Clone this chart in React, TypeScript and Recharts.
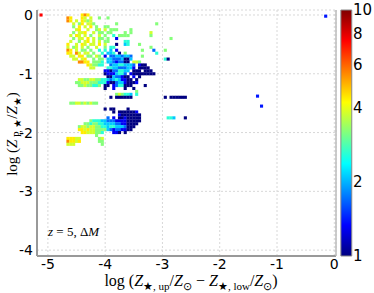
import { ScatterChart, Scatter, XAxis, YAxis, CartesianGrid, ReferenceArea } from "recharts";

// histogram bins: row j sits at y = BIN_Y0 - j*BIN, char i at x = BIN_X0 + i*BIN
const BIN_X0 = -4.7;
const BIN_Y0 = 0;
const BIN = 0.05;

// colour level code (0-9) -> count value on the colour bar
const LEVEL_VALUES = [1, 1.3, 1.7, 2.1, 2.6, 3.2, 3.8, 4.4, 5.5, 7.5];

// '.' = empty bin, '|' only separates groups of ten for readability
const CELL_ROWS = [
  "......787.",
  ".87...76.6|..5..5",
  ".87.6.7656",
  "...6.57.66|5.......5.|..........|..5",
  "...5.7.6.7|.5..55",
  "....67..6.|.56.6.555.|...5",
  "...5.667..|6.55.55...|.5.5......|6",
  "..6.76.6.5|..6.5..4.5|555.......|5",
  "...5.66.7.|6.55.5..1.|..........|.......5",
  "..6..5.67.|6.6.55....|.44",
  ".7..6.76.6|6.7.6...0.|.34...5",
  ".6.56.6.5.|.6..5.44..|..........|5",
  ".87.6.55.5|..4.4.3.1.|.......5..|.2...5",
  ".77.86.66.|5..4.334.0|.5........|..4",
  "..66.77.55|.65.1.2233|2332...5",
  "...66.67..|5.55.33222|3003......|.....40",
  ".....8877.|5554.33212|200.665",
  "........76|5544..2334|43332.100",
  ".........6|6....44332|22331.0000",
  "..........|....110224|433.000.00|0",
  "..........|....011134|42.1000000|00",
  "..........|.....00322|100.1.0",
  ".....66556|6554432343|1100.0",
  "....556665|5544410023|310001",
  ".....55655|445.00.124|4000....0",
  "..........|....0..1..|.0..0",
  "..........|..........|.....5",
  "..........|........56|5443.4",
  "..........|......0.00|0000......|.....0.000|000",
  "",
  "..55665656|55",
  "",
  "..........|....0.00..|..0",
  "..........|.......0.0|000001",
  "..........|.........1|0000000",
  "..........|.....2.1.0|0100000...|......443.|..0",
  ".........5|4443322211|1100000",
  ".......554|5544333322|110000",
  ".....56656|6554434433|32000",
  ".....77676|6555532122|1100",
  "......7766|6554...110|.0",
  "..........|.5",
  ".77766....|..56",
  ".87767....|..55",
  ".666......|...5",
];

// isolated bins away from the main block
const OUTLIER_X = [-5.12, -0.15, -1.34, -1.27];
const OUTLIER_Y = [0, -0.02, -1.38, -1.55];
const OUTLIER_V = [7.5, 1.4, 1.4, 1.4];

const X_TICKS = [-5, -4, -3, -2, -1, 0];
const Y_TICKS = [0, -1, -2, -3, -4];
const CB_TICKS = [1, 2, 4, 6, 8, 10];

function jet(v: number) {
  const t = Math.log10(v);
  const c = (x: number) => Math.round(255 * Math.max(0, Math.min(1, x)));
  return `rgb(${c(1.5 - Math.abs(4 * t - 3))},${c(1.5 - Math.abs(4 * t - 2))},${c(1.5 - Math.abs(4 * t - 1))})`;
}

const cells: { x: number; y: number; v: number }[] = [];
CELL_ROWS.forEach((row, j) => {
  row.replace(/\|/g, "").split("").forEach((ch, i) => {
    if (ch === ".") return;
    cells.push({ x: BIN_X0 + i * BIN, y: BIN_Y0 - j * BIN, v: LEVEL_VALUES[Number(ch)] });
  });
});
OUTLIER_X.forEach((x, k) => cells.push({ x, y: OUTLIER_Y[k], v: OUTLIER_V[k] }));

const CellShape = (props: any) => {
  const { cx, cy, payload } = props;
  return <rect x={cx - 1.55} y={cy - 1.55} width={3.1} height={3.1} fill={jet(payload.v)} />;
};

type Part = { t: string; it?: boolean; sub?: boolean };

function mathText(parts: Part[], subSize: number) {
  let low = false;
  return parts.map((p, k) => {
    const dy = p.sub && !low ? 4 : !p.sub && low ? -4 : 0;
    low = !!p.sub;
    return (
      <tspan key={k} dy={dy} fontStyle={p.it ? "italic" : "normal"} fontSize={p.sub ? subSize : undefined}>
        {p.t}
      </tspan>
    );
  });
}

const X_TITLE: Part[] = [
  { t: "log (" }, { t: "Z", it: true }, { t: "★, up", sub: true }, { t: "/" }, { t: "Z", it: true },
  { t: "⊙", sub: true }, { t: " − " }, { t: "Z", it: true }, { t: "★, low", sub: true }, { t: "/" },
  { t: "Z", it: true }, { t: "⊙", sub: true }, { t: ")" },
];
const Y_TITLE: Part[] = [
  { t: "log (" }, { t: "Z", it: true }, { t: " P, ★", sub: true }, { t: "/" }, { t: "Z", it: true },
  { t: "★", sub: true }, { t: ")" },
];

const tickStyle = { fill: "#000", fontSize: 14, fontFamily: "DejaVu Sans" };

export default function App() {
  return (
    <div style={{ position: "absolute", left: 0, top: 0, width: 374, height: 293, background: "#fff" }}>
      <ScatterChart width={374} height={293} margin={{ top: 10, right: 0, bottom: 0, left: 0 }}>
        <defs>
          <linearGradient id="jet" x1="0" y1="1" x2="0" y2="0">
            <stop offset="0" stopColor="#000080" />
            <stop offset="0.125" stopColor="#0000ff" />
            <stop offset="0.375" stopColor="#00ffff" />
            <stop offset="0.625" stopColor="#ffff00" />
            <stop offset="0.875" stopColor="#ff0000" />
            <stop offset="1" stopColor="#800000" />
          </linearGradient>
        </defs>
        <CartesianGrid xAxisId="x" yAxisId="v" stroke="#d8d8d8" strokeDasharray="2 2" />
        <XAxis
          xAxisId="x"
          type="number"
          dataKey="x"
          domain={[-5.19, 0.03]}
          ticks={X_TICKS}
          interval={0}
          allowDataOverflow
          height={37}
          tickSize={0}
          tickMargin={3}
          tickLine={false}
          axisLine={{ stroke: "#999", strokeWidth: 2 }}
          tick={tickStyle}
        />
        <XAxis
          xAxisId="top"
          orientation="top"
          type="number"
          dataKey="x"
          domain={[-5.19, 0.03]}
          ticks={X_TICKS}
          interval={0}
          allowDataOverflow
          mirror
          height={0}
          tickSize={3}
          tickFormatter={() => ""}
          axisLine={{ stroke: "#bbb", strokeWidth: 1.5 }}
          tickLine={{ stroke: "#bbb" }}
        />
        <YAxis
          yAxisId="v"
          type="number"
          dataKey="y"
          domain={[-4.1, 0.085]}
          ticks={Y_TICKS}
          interval={0}
          allowDataOverflow
          width={37}
          tickSize={0}
          tickMargin={4}
          tickLine={false}
          axisLine={{ stroke: "#999", strokeWidth: 2 }}
          tick={tickStyle}
        />
        <YAxis
          yAxisId="cb"
          orientation="right"
          type="number"
          scale="log"
          domain={[1, 10]}
          ticks={CB_TICKS}
          interval={0}
          allowDataOverflow
          width={38}
          tickSize={0}
          tickMargin={17}
          tickLine={false}
          axisLine={{ stroke: "#bbb", strokeWidth: 1.5 }}
          tick={{ ...tickStyle, fontSize: 15 }}
        />
        <ReferenceArea
          xAxisId="x"
          yAxisId="cb"
          x1={0.115}
          x2={0.305}
          y1={1}
          y2={10}
          ifOverflow="visible"
          fill="url(#jet)"
          fillOpacity={1}
          stroke="#888"
        />
        <Scatter xAxisId="x" yAxisId="v" data={cells} shape={CellShape} isAnimationActive={false} />
      </ScatterChart>
      <svg width={374} height={293} style={{ position: "absolute", left: 0, top: 0, pointerEvents: "none" }}>
        <text x={191} y={286} textAnchor="middle" fontFamily="Liberation Serif" fontSize={16} fill="#000">
          {mathText(X_TITLE, 11)}
        </text>
        <text
          x={17}
          y={134}
          transform="rotate(-90 17 134)"
          textAnchor="middle"
          fontFamily="Liberation Serif"
          fontSize={15}
          fill="#000"
        >
          {mathText(Y_TITLE, 10)}
        </text>
        <text x={48} y={236} fontFamily="Liberation Serif" fontSize={13} fill="#000">
          <tspan fontStyle="italic">z</tspan> = 5, Δ<tspan fontStyle="italic">M</tspan>
        </text>
      </svg>
    </div>
  );
}
